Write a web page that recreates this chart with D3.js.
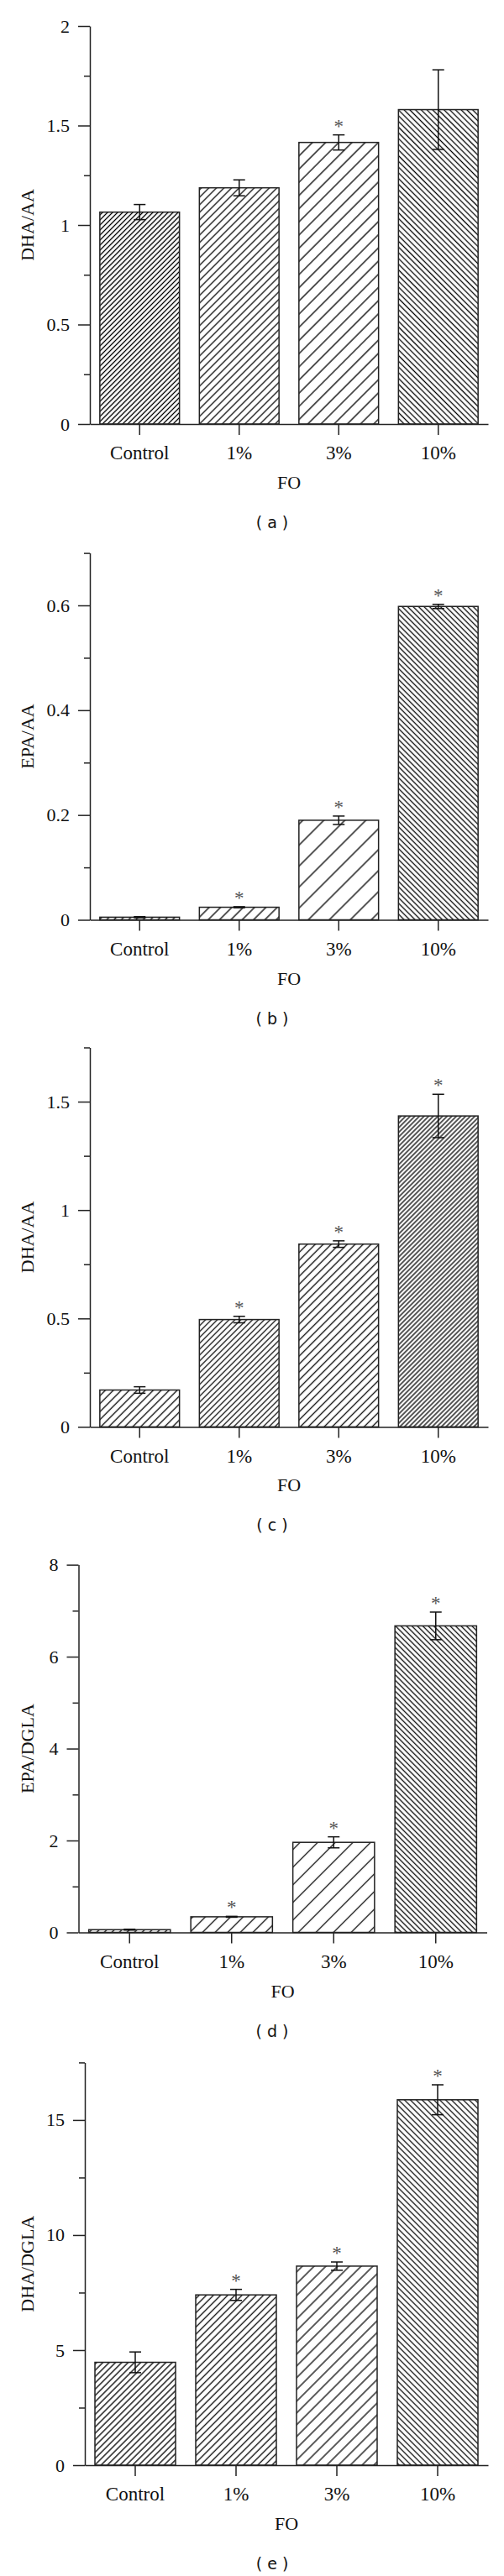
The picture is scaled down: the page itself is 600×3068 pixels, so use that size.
<!DOCTYPE html>
<html>
<head>
<meta charset="utf-8">
<script src="https://cdn.jsdelivr.net/npm/d3@7"></script>
<style>
  body { margin: 0; background: #fff; }
  svg { display: block; }
</style>
</head>
<body>
<div id="chart"></div>
<script>
// categories shared by all five panels
const categories = ["Control", "1%", "3%", "10%"];

// (a) DHA/AA
const valuesA = [1.065, 1.187, 1.415, 1.58];
const errorsA = [0.038, 0.04, 0.038, 0.2];
const starsA = [0, 0, 1, 0];
const ticksA = [0, 0.5, 1, 1.5, 2];

// (b) EPA/AA
const valuesB = [0.005, 0.024, 0.19, 0.598];
const errorsB = [0.001, 0.001, 0.008, 0.004];
const starsB = [0, 1, 1, 1];
const ticksB = [0, 0.2, 0.4, 0.6];

// (c) DHA/AA
const valuesC = [0.17, 0.495, 0.843, 1.434];
const errorsC = [0.015, 0.015, 0.015, 0.1];
const starsC = [0, 1, 1, 1];
const ticksC = [0, 0.5, 1, 1.5];

// (d) EPA/DGLA
const valuesD = [0.06, 0.34, 1.96, 6.67];
const errorsD = [0.01, 0.01, 0.12, 0.3];
const starsD = [0, 1, 1, 1];
const ticksD = [0, 2, 4, 6, 8];

// (e) DHA/DGLA
const valuesE = [4.47, 7.40, 8.65, 15.88];
const errorsE = [0.45, 0.24, 0.18, 0.65];
const starsE = [0, 1, 1, 1];
const ticksE = [0, 5, 10, 15];

const panels = [
  {id: "a", yLabel: "DHA/AA", values: valuesA, errors: errorsA, stars: starsA, ticks: ticksA, max: 2, minor: 0.25,
   top: 31, base: 505, left: 107, right: 581, hatch: [[1, 6], [1, 9], [1, 15.7], [-1, 6.8]]},
  {id: "b", yLabel: "EPA/AA", values: valuesB, errors: errorsB, stars: starsB, ticks: ticksB, max: 0.7, minor: 0.1,
   top: 658.6, base: 1095.5, left: 107, right: 581, hatch: [[1, 8.7], [1, 13.5], [1, 25], [-1, 6.5]]},
  {id: "c", yLabel: "DHA/AA", values: valuesC, errors: errorsC, stars: starsC, ticks: ticksC, max: 1.75, minor: 0.25,
   top: 1247.5, base: 1699.4, left: 107, right: 581, hatch: [[1, 9.5], [1, 7], [1, 9.5], [1, 5.5]]},
  {id: "d", yLabel: "EPA/DGLA", values: valuesD, errors: errorsD, stars: starsD, ticks: ticksD, max: 8, minor: 1,
   top: 1863.6, base: 2301.5, left: 93.5, right: 579.5, hatch: [[1, 9], [1, 15], [1, 21], [-1, 6.5]]},
  {id: "e", yLabel: "DHA/DGLA", values: valuesE, errors: errorsE, stars: starsE, ticks: ticksE, max: 17.5, minor: 2.5,
   top: 2456.4, base: 2936, left: 101, right: 581, hatch: [[1, 7.5], [1, 8.5], [1, 14], [-1, 7]]}
];

const serif = "'Liberation Serif', 'Times New Roman', serif";
const ink = "#222";

const svg = d3.select("#chart").append("svg")
    .attr("width", 600)
    .attr("height", 3068);

const defs = svg.append("defs");

panels.forEach(p => {
    const x = d3.scaleBand()
        .domain(categories)
        .range([p.left, p.right])
        .paddingInner(0.2)
        .paddingOuter(0.1);

    const y = d3.scaleLinear()
        .domain([0, p.max])
        .range([p.base, p.top]);

    // hatch patterns, one per bar
    p.hatch.forEach((h, i) => {
        const w = h[1] / Math.SQRT2;
        const pat = defs.append("pattern")
            .attr("id", `hatch-${p.id}-${i}`)
            .attr("patternUnits", "userSpaceOnUse")
            .attr("width", w)
            .attr("height", w)
            .attr("patternTransform", `rotate(${h[0] > 0 ? 45 : -45})`);
        pat.append("rect").attr("width", w).attr("height", w).attr("fill", "#fff");
        pat.append("line")
            .attr("x1", w / 2).attr("x2", w / 2)
            .attr("y1", 0).attr("y2", w)
            .attr("stroke", "#000")
            .attr("stroke-width", 1.3);
    });

    const g = svg.append("g");

    // bars
    g.selectAll(".bar")
        .data(p.values)
        .join("rect")
        .attr("x", (d, i) => x(categories[i]))
        .attr("y", d => y(d))
        .attr("width", x.bandwidth())
        .attr("height", d => y(0) - y(d))
        .attr("fill", (d, i) => `url(#hatch-${p.id}-${i})`)
        .attr("stroke", ink)
        .attr("stroke-width", 1.5);

    // error bars + significance stars
    const cap = 7;
    p.values.forEach((v, i) => {
        const cx = x(categories[i]) + x.bandwidth() / 2;
        const e = p.errors[i];
        const eb = g.append("g").attr("stroke", "#111").attr("stroke-width", 1.5);
        eb.append("line").attr("x1", cx).attr("x2", cx).attr("y1", y(v - e)).attr("y2", y(v + e));
        eb.append("line").attr("x1", cx - cap).attr("x2", cx + cap).attr("y1", y(v + e)).attr("y2", y(v + e));
        eb.append("line").attr("x1", cx - cap).attr("x2", cx + cap).attr("y1", y(v - e)).attr("y2", y(v - e));
        if (p.stars[i]) {
            g.append("text")
                .attr("x", cx)
                .attr("y", y(v + e) - 3)
                .attr("text-anchor", "middle")
                .style("font-family", serif)
                .style("font-size", "23px")
                .attr("fill", "#555")
                .text("*");
        }
    });

    // minor y ticks
    const minorTicks = d3.range(0, p.max + 1e-9, p.minor).filter(t => !p.ticks.some(m => Math.abs(m - t) < 1e-9));
    g.append("g")
        .attr("transform", `translate(${p.left},0)`)
        .call(d3.axisLeft(y).tickValues(minorTicks).tickSize(7).tickFormat(""))
        .call(a => a.select(".domain").remove())
        .call(a => a.selectAll("line").attr("stroke", ink).attr("stroke-width", 1.5));

    // major y ticks
    g.append("g")
        .attr("transform", `translate(${p.left},0)`)
        .call(d3.axisLeft(y).tickValues(p.ticks).tickSize(14).tickSizeOuter(0).tickPadding(10).tickFormat(d3.format("~g")))
        .call(a => a.selectAll("line, path").attr("stroke", ink).attr("stroke-width", 1.5))
        .call(a => a.selectAll("text").style("font-family", serif).style("font-size", "22px").attr("fill", "#111"));

    // x axis
    g.append("g")
        .attr("transform", `translate(0,${p.base})`)
        .call(d3.axisBottom(x).tickSize(13).tickSizeOuter(0).tickPadding(13))
        .call(a => a.selectAll("line, path").attr("stroke", ink).attr("stroke-width", 1.5))
        .call(a => a.selectAll("text").style("font-family", serif).style("font-size", "23px").attr("fill", "#111"));

    // axis titles
    g.append("text")
        .attr("text-anchor", "middle")
        .attr("x", (p.left + p.right) / 2)
        .attr("y", p.base + 77)
        .style("font-family", serif)
        .style("font-size", "22px")
        .attr("fill", "#111")
        .text("FO");

    g.append("text")
        .attr("text-anchor", "middle")
        .attr("transform", `translate(40,${(p.top + p.base) / 2}) rotate(-90)`)
        .style("font-family", serif)
        .style("font-size", "22px")
        .attr("fill", "#111")
        .text(p.yLabel);

    // panel label
    g.append("text")
        .attr("text-anchor", "middle")
        .attr("x", 324)
        .attr("y", p.base + 124)
        .style("font-family", "'DejaVu Sans', Verdana, sans-serif")
        .style("font-size", "19px")
        .attr("fill", "#111")
        .attr("xml:space", "preserve")
        .text(`( ${p.id} )`);
});
</script>
</body>
</html>
